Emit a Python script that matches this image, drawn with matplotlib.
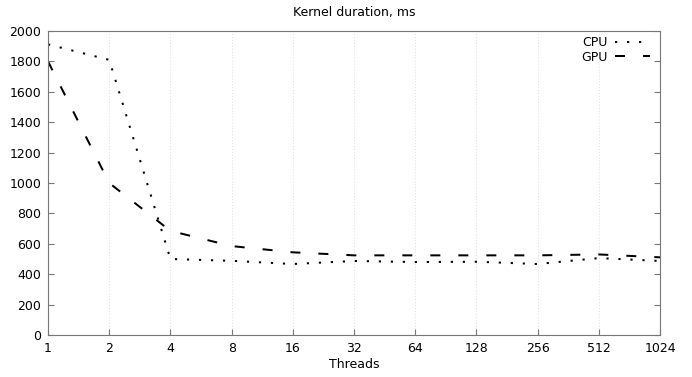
import numpy as np
import matplotlib
matplotlib.use('Agg')
import matplotlib.pyplot as plt

threads = [1, 2, 4, 8, 16, 32, 64, 128, 256, 512, 1024]
cpu_ms = [1912, 1810, 500, 488, 467, 487, 480, 482, 467, 506, 487]
gpu_ms = [1800, 1000, 685, 585, 544, 524, 524, 524, 524, 530, 511]
y_ticks = [0, 200, 400, 600, 800, 1000, 1200, 1400, 1600, 1800, 2000]

fig = plt.figure(figsize=(6.92, 3.77), dpi=100)
ax = fig.add_axes([0.0694, 0.1114, 0.8844, 0.8064])

lw = 1.44
ax.plot(threads, cpu_ms, color='black', linewidth=lw, dashes=(1.1, 4.9),
        dash_capstyle='butt', label='CPU')
ax.plot(threads, gpu_ms, color='black', linewidth=lw, dashes=(5, 9),
        label='GPU')

ax.set_xscale('log', base=2)
ax.set_xlim(1, 1024)
ax.set_ylim(0, 2000)
ax.set_xticks(threads)
ax.set_xticklabels([str(t) for t in threads])
ax.minorticks_off()
ax.set_yticks(y_ticks)

ax.grid(True, axis='x', color='#e2e2e2', linestyle=':', linewidth=0.8)
for s in ax.spines.values():
    s.set_color('#777777')
ax.tick_params(direction='in', length=4, color='#777777', labelsize=9, pad=5,
               right=True, top=True)
ax.tick_params(axis='x', top=False)

ax.set_title('Kernel duration, ms', fontsize=9, pad=11)
ax.set_xlabel('Threads', fontsize=9, labelpad=2)

ax.legend(loc='upper right', bbox_to_anchor=(0.99, 0.995), frameon=False,
          markerfirst=False, fontsize=9, handlelength=2.8, handletextpad=0.6,
          labelspacing=0.1, borderaxespad=0.1, borderpad=0.2)

fig.savefig('out.png', dpi=100)
